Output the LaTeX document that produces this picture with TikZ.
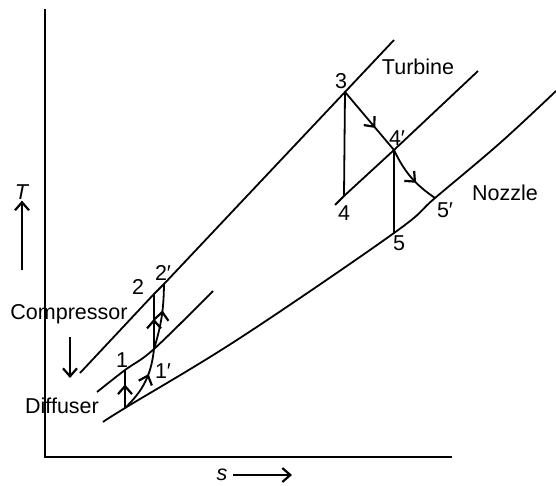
\documentclass[tikz,border=0pt]{standalone}
\usepackage{fontspec}
\setmainfont{Liberation Sans}
\usetikzlibrary{arrows.meta,positioning,decorations.markings}
\tikzset{
    every node/.style={font=\fontsize{21.5}{23}\selectfont,inner sep=1pt},
    axis/.style={line width=2.2pt},
    isobar/.style={line width=1.8pt},
    process/.style={line width=1.8pt},
    tip/.style={-{Straight Barb[length=8pt,width=14pt,line width=2.2pt]}},
    midarrow/.style={postaction={decorate},decoration={markings,
        mark=at position #1 with {\arrow{Straight Barb[length=8pt,width=14pt,line width=2.2pt]}}}},
    midarrow/.default=0.5
}

\begin{document}
\begin{tikzpicture}[x=1pt,y=-1pt]
\useasboundingbox (0,0) rectangle (556,485);

% axes
\coordinate (O) at (45,457);
\coordinate (Ttop) at (45,9);
\coordinate (Send) at (452,457);
\draw[axis] (Ttop) -- (O) -- (Send);
\node (Tlbl) at (22,192) {\textit{T}};
\coordinate (Tfoot) at (22,270);
\draw[process,tip] (Tfoot) -- (Tlbl.south);
\node (slbl) at (222,475) {\textit{s}};
\coordinate (sfoot) at (233,475);
\coordinate (shead) at (292,475);
\draw[process,tip] (sfoot) -- (shead);

% state points
\coordinate (b) at (125,408);
\coordinate (s1) at (125,370);
\coordinate (s1p) at (154,349);
\coordinate (s2) at (154,294);
\coordinate (s2p) at (164,284);
\coordinate (s3) at (345,92);
\coordinate (s4) at (344,196);
\coordinate (s4p) at (394,150);
\coordinate (s5) at (394,233);
\coordinate (s5p) at (435,198);

% pressure lines
\draw[isobar] (80,373) -- (s2) -- (s2p) -- (s3) -- (394,40);
\draw[isobar] (335,205) -- (s4) -- (s4p) -- (478,71);
\draw[isobar] plot[smooth,tension=0.6] coordinates {(97,392) (s1) (s1p) (213,291)};
\draw[isobar] plot[smooth,tension=0.6] coordinates {(103,422) (b) (240,338) (s5) (s5p) (500,143) (556,91)};

% diffuser and compressor
\draw[process,midarrow=0.62] (b) -- (s1);
\draw[process,midarrow=0.62] (b) to[bend right=20] (s1p);
\draw[process,midarrow=0.55] (s1p) -- (s2);
\draw[process,midarrow=0.6] (s1p) to[bend right=8] (s2p);

% turbine and nozzle
\draw[process] (s3) -- (s4);
\draw[process,midarrow=0.62] (s3) -- (s4p);
\draw[process] (s4p) -- (s5);
\draw[process,midarrow=0.62] (s4p) to[bend right=15] (s5p);

% labels
\node (l1) at (122,360) {1};
\node (l1p) at (163,371) {1′};
\node (l2) at (138,287) {2};
\node (l2p) at (163,273) {2′};
\node (l3) at (341,81) {3};
\node (l4) at (344,213) {4};
\node (l4p) at (397,138) {4′};
\node (l5) at (399,243) {5};
\node (l5p) at (445,210) {5′};
\node (turb) at (418,67) {Turbine};
\node (nozz) at (505,193) {Nozzle};
\node (comp) at (69,314) {Compressor};
\node (diff) at (62,406) {Diffuser};
\coordinate (ctop) at (70,337);
\coordinate (cbot) at (70,378);
\draw[process,tip] (ctop) -- (cbot);
\end{tikzpicture}
\end{document}
